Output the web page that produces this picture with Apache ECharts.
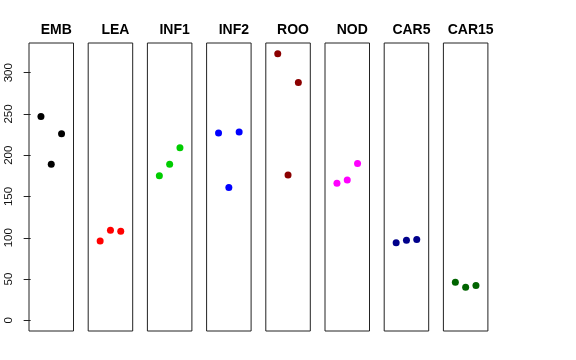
<!DOCTYPE html>
<html><head><meta charset="utf-8">
<script src="https://cdn.jsdelivr.net/npm/echarts@6/dist/echarts.min.js"></script>
<style>html,body{margin:0;padding:0;background:#fff}#c{width:576px;height:360px}</style>
</head><body><div id="c"></div>
<script>
var panels = ['EMB','LEA','INF1','INF2','ROO','NOD','CAR5','CAR15'];
var colors = ['#000000','#FF0000','#00CD00','#0000FF','#8B0000','#FF00FF','#00008B','#006400'];
var xPos = [1, 2, 3];
var EMB = [247, 189, 226];
var LEA = [96, 109, 108];
var INF1 = [175, 189, 209];
var INF2 = [227, 161, 228];
var ROO = [323, 176, 288];
var NOD = [166, 170, 190];
var CAR5 = [94, 97, 98];
var CAR15 = [46, 40, 42];
var yTicks = [0, 50, 100, 150, 200, 250, 300];
var values = [EMB, LEA, INF1, INF2, ROO, NOD, CAR5, CAR15];

var chart = echarts.init(document.getElementById('c'), null, {renderer:'canvas'});
var left0 = 29, step = 59.2, gw = 44.5, gTop = 43, gh = 288;
var grids = [], xAxes = [], yAxes = [], series = [], titles = [];
panels.forEach(function(p, i){
  var L = left0 + i*step;
  grids.push({left: L, top: gTop, width: gw, height: gh, show: true, borderColor: '#222', borderWidth: 1, backgroundColor: 'transparent'});
  xAxes.push({type:'value', gridIndex:i, min:-0.16, max:4.16, show:false});
  yAxes.push({type:'value', gridIndex:i, min:-13, max:336, show: i===0,
    splitLine:{show:false}, axisLine:{show:false},
    axisTick:{show:true, length:7, lineStyle:{color:'#222'}, customValues: yTicks},
    axisLabel:{show:true, rotate:90, margin:14, fontSize:11.5, fontFamily:'Liberation Sans, Arial, sans-serif', color:'#111', customValues: yTicks}
  });
  titles.push({text:p, left: L + gw/2, top: 18, textAlign:'center',
    textStyle:{fontSize:14, fontWeight:'bold', fontFamily:'Liberation Sans, Arial, sans-serif', color:'#000'}});
  series.push({type:'scatter', xAxisIndex:i, yAxisIndex:i, symbolSize:7,
    itemStyle:{color:colors[i], opacity:1},
    data: xPos.map(function(x, k){ return [x, values[i][k]]; })});
});
chart.setOption({animation:false, title:titles, grid:grids, xAxis:xAxes, yAxis:yAxes, series:series});
</script></body></html>
